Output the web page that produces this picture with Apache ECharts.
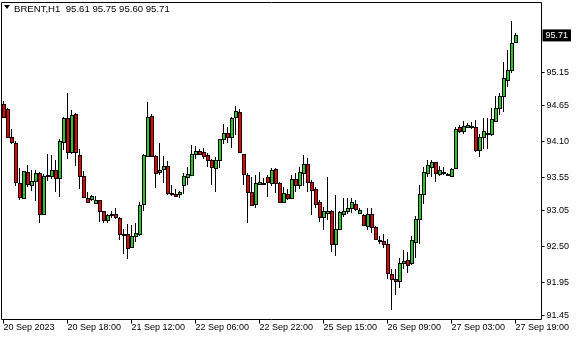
<!DOCTYPE html>
<html>
<head>
<meta charset="utf-8">
<script src="https://cdn.jsdelivr.net/npm/echarts@6/dist/echarts.min.js"></script>
<style>
html,body{margin:0;padding:0;background:#fff;}
#chart{width:580px;height:340px;}
</style>
</head>
<body>
<div id="chart"></div>
<script>
// ---- data (BRENT, H1) ----
const opens  = [94.66,94.59,94.16,94.08,93.47,93.24,93.63,93.44,93.50,93.62,92.99,93.57,93.57,93.66,93.54,94.09,94.45,93.93,94.51,93.89,93.57,93.23,93.22,93.16,93.20,93.03,92.90,92.99,92.99,92.93,92.68,92.68,92.49,92.66,92.69,93.14,93.87,94.48,93.88,93.63,93.67,93.72,93.31,93.30,93.29,93.43,93.56,93.58,93.90,93.95,93.93,93.89,93.82,93.69,93.82,94.13,94.22,94.16,94.47,94.54,93.90,93.58,93.33,93.14,93.45,93.45,93.55,93.47,93.68,93.47,93.17,93.30,93.24,93.52,93.44,93.61,93.76,93.48,93.37,93.17,92.95,93.01,93.04,92.53,92.76,92.99,93.03,93.08,93.14,93.01,92.98,92.81,92.99,92.79,92.59,92.58,92.54,92.08,92.01,91.97,92.24,92.29,92.24,92.57,92.91,93.29,93.62,93.71,93.78,93.60,93.62,93.58,93.57,93.69,94.31,94.26,94.32,94.32,94.31,93.97,94.17,94.22,94.21,94.41,94.61,94.79,95.03,95.18,95.61];
const highs  = [94.71,94.61,94.29,94.10,93.69,93.65,93.74,93.66,93.66,93.63,93.60,93.90,93.89,93.81,94.13,94.47,94.84,94.58,94.53,93.98,93.64,93.33,93.28,93.26,93.21,93.04,92.99,93.03,93.09,92.94,92.76,92.84,92.82,92.86,93.18,93.91,94.70,94.51,93.89,94.07,93.87,93.80,93.44,93.37,93.34,93.61,93.70,94.04,94.03,93.98,93.99,93.92,93.83,93.86,94.14,94.36,94.31,94.47,94.63,94.59,93.91,93.61,93.55,93.59,93.63,93.54,93.59,93.69,93.69,93.48,93.41,93.37,93.59,93.61,93.70,93.89,93.84,93.51,93.40,93.21,93.10,93.56,93.05,93.28,93.04,93.23,93.23,93.24,93.21,93.08,92.99,93.08,93.08,92.81,92.65,92.68,92.61,92.16,92.16,92.32,92.44,92.41,92.65,92.96,93.43,93.71,93.82,93.82,93.79,93.73,93.71,93.62,93.69,94.31,94.35,94.41,94.37,94.39,94.43,94.21,94.46,94.46,94.61,94.79,94.83,95.30,95.49,95.93,95.75];
const lows   = [94.46,94.15,94.06,93.42,93.21,93.23,93.41,93.34,93.19,92.86,92.98,93.49,93.52,93.32,93.25,93.97,93.83,93.90,93.73,93.37,93.24,93.16,93.19,93.14,92.87,92.86,92.85,92.93,92.92,92.59,92.38,92.30,92.47,92.57,92.66,93.04,93.86,93.86,93.39,93.58,93.47,93.28,93.26,93.25,93.23,93.29,93.43,93.57,93.83,93.90,93.83,93.71,93.44,93.33,93.69,94.05,94.08,93.99,94.19,93.92,93.44,92.85,93.12,93.08,93.44,93.43,93.25,93.42,93.31,93.16,93.16,93.20,93.23,93.33,93.37,93.42,93.33,92.98,93.08,92.87,92.75,92.90,92.42,92.35,92.75,92.95,92.99,93.01,93.03,93.00,92.82,92.75,92.71,92.59,92.53,92.47,92.00,91.53,91.76,91.86,92.16,92.10,92.21,92.32,92.54,93.15,93.56,93.56,93.48,93.57,93.58,93.57,93.57,93.68,94.23,94.21,94.31,94.29,93.94,93.86,93.98,93.98,94.18,94.40,94.50,94.55,94.92,95.14,95.60];
const closes = [94.47,94.17,94.09,93.48,93.25,93.64,93.45,93.49,93.61,92.99,93.57,93.58,93.66,93.54,94.10,94.45,93.94,94.50,93.94,93.57,93.25,93.17,93.26,93.20,93.04,92.90,92.97,92.99,92.94,92.68,92.68,92.48,92.66,92.71,93.13,93.89,94.47,93.88,93.62,93.66,93.72,93.31,93.30,93.26,93.32,93.57,93.60,93.90,93.95,93.91,93.88,93.82,93.71,93.81,94.13,94.22,94.16,94.46,94.56,93.93,93.60,93.32,93.13,93.46,93.48,93.47,93.48,93.66,93.47,93.17,93.31,93.23,93.52,93.44,93.63,93.75,93.48,93.36,93.15,92.95,93.03,93.04,92.53,92.76,93.02,93.03,93.08,93.17,93.07,93.05,92.83,92.99,92.80,92.61,92.58,92.53,92.09,92.01,91.97,92.24,92.28,92.22,92.59,92.91,93.30,93.63,93.74,93.78,93.61,93.66,93.63,93.60,93.68,94.29,94.26,94.33,94.35,94.33,93.96,94.16,94.26,94.23,94.44,94.61,94.79,95.06,95.19,95.59,95.71];

// trading sessions (day label, first hour, last hour)
const sessions = [['20 Sep',2,23],['21 Sep',2,23],['22 Sep',2,23],['25 Sep',1,23],['26 Sep',2,23],['27 Sep',2,19]];
const xTickLabels = ['20 Sep 2023','20 Sep 18:00','21 Sep 12:00','22 Sep 06:00','22 Sep 22:00','25 Sep 15:00','26 Sep 09:00','27 Sep 03:00','27 Sep 19:00'];
const yTickValues = [91.45,91.95,92.50,93.05,93.55,94.10,94.65,95.15];
const titleText = 'BRENT,H1  95.61 95.75 95.60 95.71';

const categories = [];
sessions.forEach(s => { for (let h = s[1]; h <= s[2]; h++) categories.push(s[0] + ' ' + String(h).padStart(2,'0') + ':00'); });
const emptySlots = 6;
for (let i = 0; i < emptySlots; i++) categories.push('');

const candles = opens.map((o, i) => [i, o, closes[i], lows[i], highs[i]]);
const lastClose = closes[closes.length - 1];
const labelStep = 16;
const nBars = opens.length;

const BULL = 'rgb(40,200,40)', BEAR = 'rgb(230,0,0)';

function renderCandle(params, api) {
  const idx = api.value(0);
  const o = api.value(1), c = api.value(2), l = api.value(3), h = api.value(4);
  const px = api.coord([idx, o]);
  const cx = Math.floor(px[0]);
  const yO = api.coord([idx, o])[1], yC = api.coord([idx, c])[1];
  const yH = api.coord([idx, h])[1], yL = api.coord([idx, l])[1];
  const top = Math.round(Math.min(yO, yC));
  const bot = Math.max(Math.round(Math.max(yO, yC)), top + 1);
  const fill = c > o ? BULL : (c < o ? BEAR : '#000');
  const children = [
    {type: 'rect', shape: {x: cx, y: Math.round(yH), width: 1, height: Math.max(Math.round(yL) - Math.round(yH), 1)},
      style: {fill: '#000'}},
    {type: 'rect', shape: {x: cx - 1, y: top, width: 4, height: bot - top + 1}, style: {fill: '#000'}}
  ];
  if (bot - top >= 2 && c !== o) {
    children.push({type: 'rect', shape: {x: cx, y: top + 1, width: 2, height: bot - top - 1}, style: {fill: fill}});
  }
  return {type: 'group', children: children};
}

const chart = echarts.init(document.getElementById('chart'), null, {renderer: 'canvas'});
const FONT = '"Liberation Sans", Arial, sans-serif';
chart.setOption({
  animation: false,
  backgroundColor: '#ffffff',
  grid: {left: 1.5, right: 38.5, top: 2.5, bottom: 20.5, show: true, borderColor: '#000', borderWidth: 1, backgroundColor: 'transparent'},
  graphic: [
    {type: 'polygon', shape: {points: [[4,5],[10,5],[7,9]]}, style: {fill: '#000'}},
    {type: 'text', left: 14, top: 4, style: {text: titleText, font: '9.6px ' + FONT, fill: '#000'}}
  ],
  xAxis: {
    type: 'category',
    data: categories,
    boundaryGap: true,
    axisLine: {show: false},
    axisTick: {show: true, alignWithLabel: true, length: 4, lineStyle: {color: '#000'},
      interval: (idx) => idx % labelStep === 0 && idx < nBars},
    axisLabel: {show: true, color: '#000', fontFamily: FONT, fontSize: 9, align: 'left', margin: 4,
      interval: (idx) => idx % labelStep === 0 && idx < nBars,
      formatter: (v, idx) => xTickLabels[idx / labelStep] || ''},
    splitLine: {show: false}
  },
  yAxis: {
    type: 'value',
    position: 'right',
    min: 91.386,
    max: 96.211,
    scale: true,
    axisLine: {show: false},
    axisTick: {show: true, length: 3, inside: false, lineStyle: {color: '#000'}, customValues: yTickValues},
    axisLabel: {show: true, color: '#000', fontFamily: FONT, fontSize: 9, margin: 5,
      customValues: yTickValues, formatter: (v) => v.toFixed(2)},
    splitLine: {show: false}
  },
  series: [{
    type: 'custom',
    data: candles,
    encode: {x: 0, y: [1, 2, 3, 4]},
    renderItem: renderCandle,
    clip: false,
    markLine: {
      silent: true, symbol: ['none', 'none'],
      lineStyle: {color: 'rgba(0,0,0,0)', width: 1, type: 'solid'},
      label: {show: true, position: 'end', distance: 1, formatter: (p) => Number(p.value).toFixed(2),
        color: '#fff', backgroundColor: '#000', padding: [2, 3, 1, 3], fontFamily: FONT, fontSize: 9},
      data: [{yAxis: lastClose}]
    }
  }]
});
</script>
</body>
</html>
